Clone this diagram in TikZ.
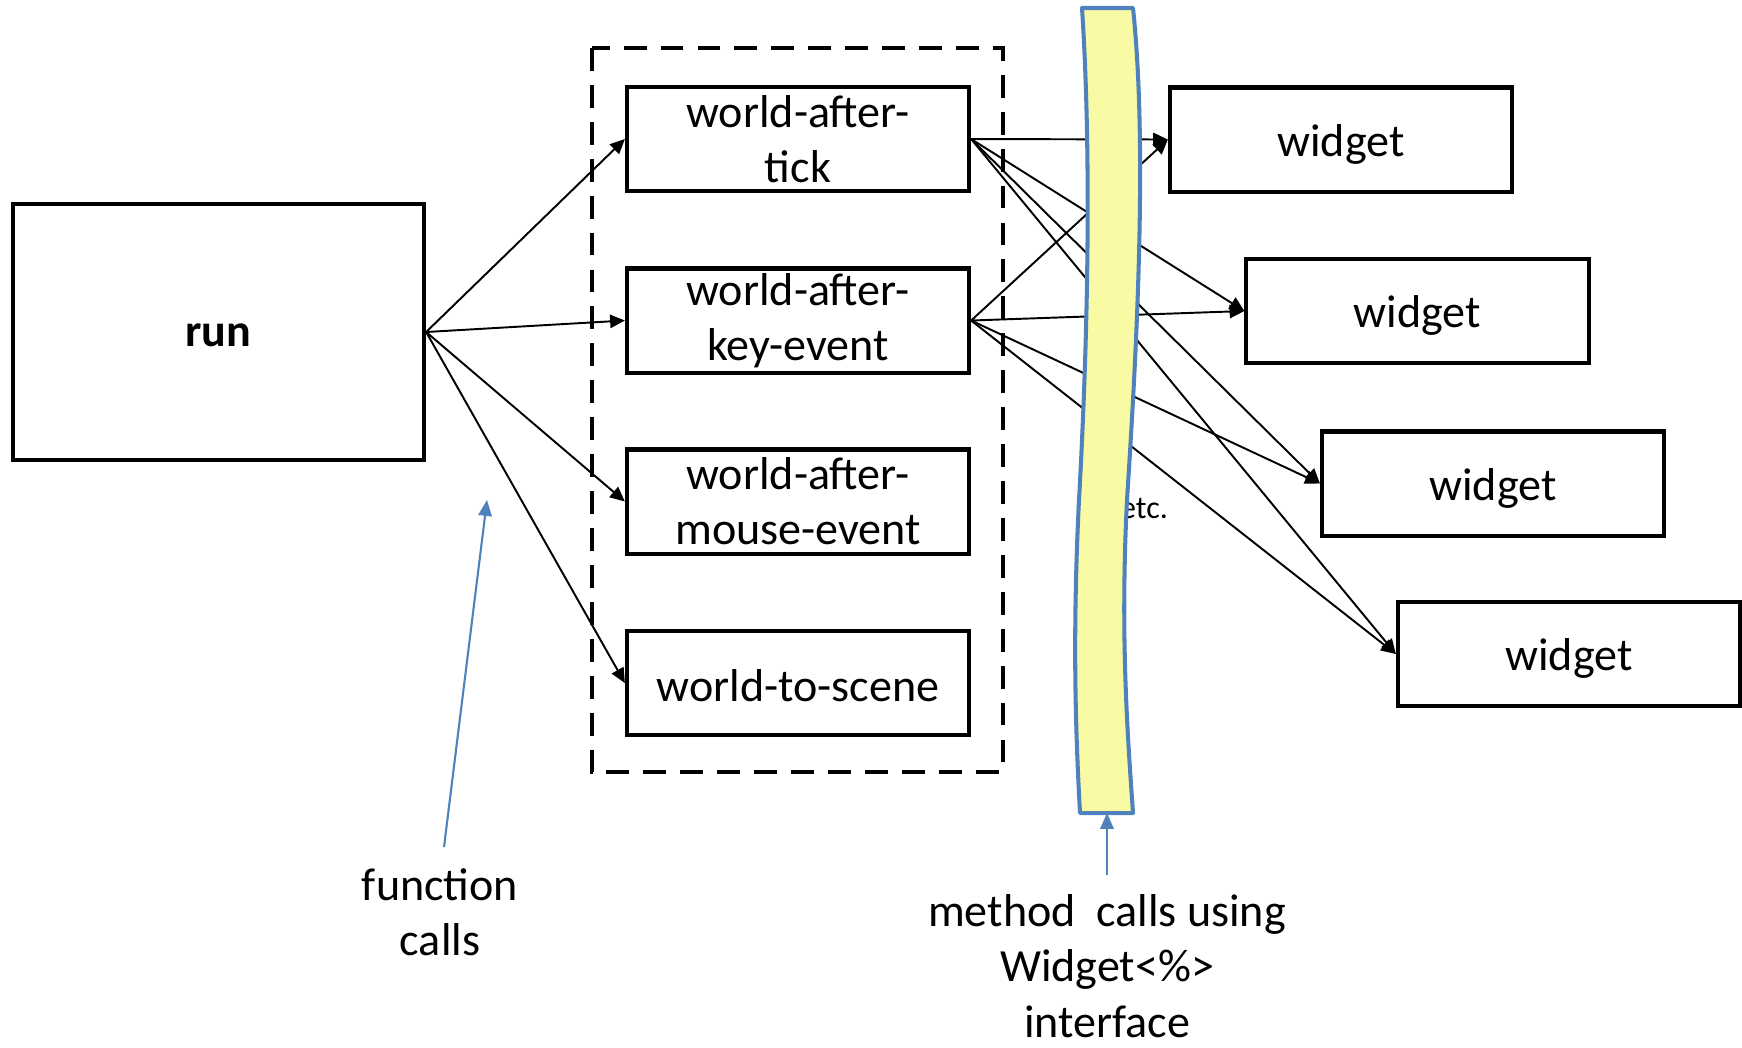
\documentclass[tikz,border=0pt]{standalone}
\usepackage{fontspec}
\setmainfont{Carlito}
\usepackage{tikz}
\usetikzlibrary{arrows.meta}
\definecolor{tapeblue}{RGB}{79,129,189}
\definecolor{tapeyellow}{RGB}{248,251,164}
\def\bodyfont{\fontsize{13.1}{15.7}\selectfont}
\def\smallfont{\fontsize{9.1}{11}\selectfont}

\begin{document}
\begin{tikzpicture}[x=0.01cm, y=-0.01cm,
	fnbox/.style={rectangle, draw=black, line width=1.15pt, inner sep=0, minimum width=3.42cm, minimum height=1.04cm, align=center, font=\bodyfont},
	widgetbox/.style={fnbox, text height=12.1pt, text depth=2.6pt},
	runbox/.style={fnbox, minimum width=4.11cm, minimum height=2.56cm, font=\bodyfont\bfseries, text height=8pt, text depth=0pt},
	call/.style={-{Triangle[length=4.2pt, width=3.8pt]}, line width=0.55pt},
	note/.style={-{Triangle[length=4.5pt, width=3.8pt]}, draw=tapeblue, fill=tapeblue, line width=0.6pt},
	tape/.style={draw=tapeblue, fill=tapeyellow, line width=1.15pt, line join=round},
	remark/.style={align=center, font=\bodyfont, inner sep=0},
	]
	\useasboundingbox (0,0) rectangle (1742,1047);

	%Nodes
	\node[runbox]  (Run)    at (218.5,332)  {run};
	\node[fnbox]   (Tick)   at (798,139)    {world-after-\\tick};
	\node[fnbox]   (Key)    at (798,320.5)  {world-after-\\key-event};
	\node[fnbox]   (Mouse)  at (798,501.5)  {world-after-\\mouse-event};
	\node[fnbox, text height=10.3pt, text depth=0pt] (Scene) at (798,683) {world-to-scene};

	\node[widgetbox] (WidgetA) at (1341,139.5)  {widget};
	\node[widgetbox] (WidgetB) at (1417.5,311)  {widget};
	\node[widgetbox] (WidgetC) at (1493,483.5)  {widget};
	\node[widgetbox] (WidgetD) at (1569,654)    {widget};

	\node[anchor=base, font=\smallfont, inner sep=0] (Etc) at (1144,518) {etc.};

	\node[remark]  (FnCalls)     at (440,912)  {function\\calls};
	\node[remark]  (MethodCalls) at (1107,966) {method\ \ calls using\\Widget<\%>\\interface};

	%Handler group
	\draw[line width=1.15pt, dash pattern=on 6.5pt off 4pt] (592,48) rectangle (1003,772);

	%Lines
	\draw[call] (Run.east) -- (Tick.west);
	\draw[call] (Run.east) -- (Key.west);
	\draw[call] (Run.east) -- (Mouse.west);
	\draw[call] (Run.east) -- (Scene.west);

	\draw[call] (Tick.east) -- (WidgetA.west);
	\draw[call] (Tick.east) -- (WidgetB.west);
	\draw[call] (Tick.east) -- (WidgetC.west);
	\draw[call] (Tick.east) -- (WidgetD.west);
	\draw[call] (Key.east)  -- (WidgetA.west);
	\draw[call] (Key.east)  -- (WidgetB.west);
	\draw[call] (Key.east)  -- (WidgetC.west);
	\draw[call] (Key.east)  -- (WidgetD.west);

	%Interface tape
	\draw[tape] (1082,8) .. controls (1090,130) and (1090,300) .. (1079,500)
		.. controls (1072,640) and (1076,740) .. (1080,813) -- (1133,813)
		.. controls (1128,740) and (1120,640) .. (1127,500)
		.. controls (1136,360) and (1148,150) .. (1133,8) -- cycle;
	\coordinate (TapeFoot) at (1107,813);

	%Notes
	\coordinate (FnFoot) at (444,847);
	\coordinate (FnTip)  at (487,500);
	\coordinate (MethodFoot) at (1107,875);
	\draw[note] (FnFoot) -- (FnTip);
	\draw[note] (MethodFoot) -- (TapeFoot);
\end{tikzpicture}
\end{document}
